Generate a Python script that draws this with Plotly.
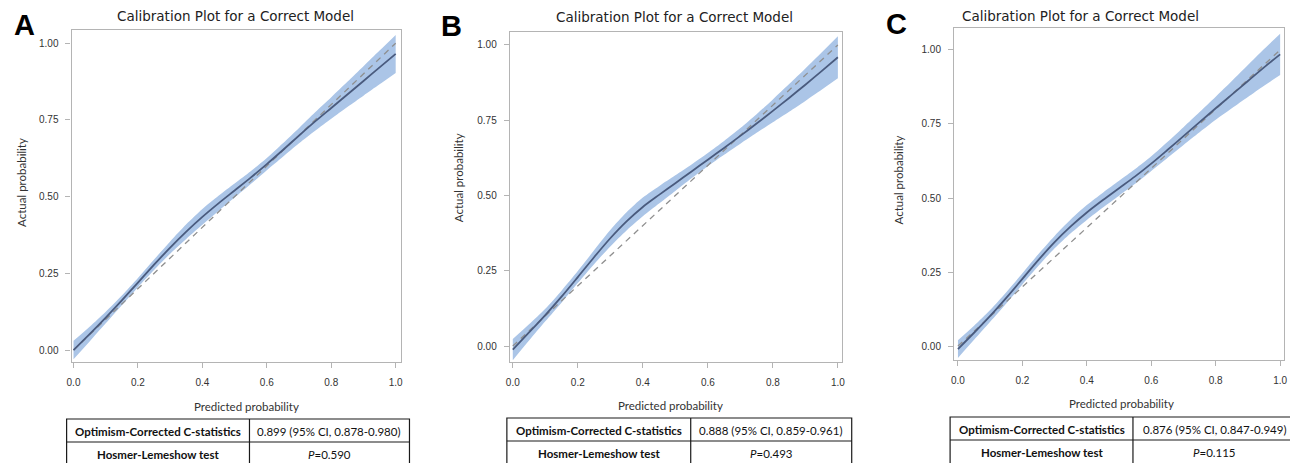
import plotly.graph_objects as go

W, H = 1290, 463

# ---------------- data ----------------
pred_x = [0.0, 0.05, 0.1, 0.15, 0.2, 0.25, 0.3, 0.35, 0.4, 0.45, 0.5,
          0.55, 0.6, 0.65, 0.7, 0.75, 0.8, 0.85, 0.9, 0.95, 1.0]

a_actual = [0.0, 0.052, 0.106, 0.162, 0.220, 0.278, 0.334, 0.386, 0.434, 0.478, 0.520,
            0.562, 0.606, 0.652, 0.699, 0.745, 0.789, 0.833, 0.877, 0.921, 0.965]
a_lower = [-0.03, 0.028, 0.087, 0.146, 0.205, 0.261, 0.314, 0.362, 0.408, 0.453, 0.497,
           0.541, 0.586, 0.630, 0.674, 0.715, 0.754, 0.792, 0.829, 0.866, 0.903]
a_upper = [0.03, 0.076, 0.125, 0.178, 0.235, 0.295, 0.354, 0.410, 0.460, 0.503, 0.543,
           0.583, 0.626, 0.674, 0.724, 0.775, 0.824, 0.874, 0.925, 0.976, 1.027]

b_actual = [-0.012, 0.045, 0.103, 0.164, 0.229, 0.295, 0.358, 0.414, 0.462, 0.502, 0.541,
            0.580, 0.619, 0.658, 0.698, 0.739, 0.781, 0.824, 0.868, 0.913, 0.959]
b_lower = [-0.047, 0.018, 0.082, 0.144, 0.209, 0.272, 0.331, 0.384, 0.431, 0.473, 0.515,
           0.557, 0.597, 0.635, 0.672, 0.708, 0.743, 0.778, 0.814, 0.851, 0.889]
b_upper = [0.023, 0.072, 0.124, 0.184, 0.249, 0.318, 0.385, 0.444, 0.493, 0.531, 0.567,
           0.603, 0.641, 0.681, 0.724, 0.770, 0.819, 0.870, 0.922, 0.975, 1.029]

c_actual = [-0.01, 0.045, 0.102, 0.163, 0.227, 0.291, 0.351, 0.404, 0.451, 0.493, 0.533,
            0.573, 0.616, 0.662, 0.709, 0.756, 0.803, 0.849, 0.895, 0.941, 0.985]
c_lower = [-0.04, 0.021, 0.082, 0.144, 0.208, 0.271, 0.330, 0.381, 0.426, 0.468, 0.508,
           0.548, 0.591, 0.635, 0.679, 0.722, 0.764, 0.803, 0.841, 0.879, 0.915]
c_upper = [0.02, 0.069, 0.122, 0.182, 0.246, 0.311, 0.372, 0.427, 0.476, 0.518, 0.558,
           0.598, 0.641, 0.689, 0.739, 0.790, 0.842, 0.895, 0.949, 1.003, 1.055]

ideal_x = [0.0, 1.0]
ideal_y = [0.0, 1.0]

panel_letters = ["A", "B", "C"]
plot_title = "Calibration Plot for a Correct Model"
x_title = "Predicted probability"
y_title = "Actual probability"
x_ticks = [0.0, 0.2, 0.4, 0.6, 0.8, 1.0]
x_ticklabels = ["0.0", "0.2", "0.4", "0.6", "0.8", "1.0"]
y_ticks = [0.0, 0.25, 0.5, 0.75, 1.0]
y_ticklabels = ["0.00", "0.25", "0.50", "0.75", "1.00"]

row1_label = "Optimism-Corrected C-statistics"
row2_label = "Hosmer-Lemeshow test"
c_stats = ["0.899 (95% CI, 0.878-0.980)", "0.888 (95% CI, 0.859-0.961)", "0.876 (95% CI, 0.847-0.949)"]
hl_p = ["0.590", "0.493", "0.115"]

# ---------------- layout geometry (pixels) ----------------
panels = [
    dict(actual=a_actual, lower=a_lower, upper=a_upper,
         frame=(67, 398, 30, 362), xr=(-0.006, 1.015), yr=(-0.039, 1.043),
         title=(232, 16), xt=(243, 406), yt=(16, 182), letter=(20, 25),
         table=(62, 246, 407, 419, 442)),
    dict(actual=b_actual, lower=b_lower, upper=b_upper,
         frame=(508, 842, 32, 362), xr=(-0.009, 1.012), yr=(-0.053, 1.043),
         title=(674, 17), xt=(670, 405), yt=(456, 178), letter=(449, 26),
         table=(505, 690, 852, 418, 441)),
    dict(actual=c_actual, lower=c_lower, upper=c_upper,
         frame=(955, 1287, 28, 360), xr=(-0.012, 1.012), yr=(-0.047, 1.074),
         title=(1082, 16), xt=(1123, 403), yt=(899, 180), letter=(897, 24),
         table=(951, 1135, 1300, 417, 440)),
]

def px(x):
    return x / W

def py(y):
    return 1 - y / H

fig = go.Figure()
shapes = []
annotations = []

band_color = "#abc5e7"
line_color = "#4a5b7e"
dash_color = "#8f8f8f"
frame_color = "#b4b4b4"

for i, p in enumerate(panels):
    n = "" if i == 0 else str(i + 1)
    xa, ya = "x" + n, "y" + n
    fig.add_trace(go.Scatter(x=pred_x, y=p["lower"], mode="lines",
                             line=dict(width=0, shape="spline", smoothing=0.8),
                             xaxis=xa, yaxis=ya, showlegend=False, hoverinfo="skip"))
    fig.add_trace(go.Scatter(x=pred_x, y=p["upper"], mode="lines",
                             line=dict(width=0, shape="spline", smoothing=0.8),
                             fill="tonexty", fillcolor=band_color,
                             xaxis=xa, yaxis=ya, showlegend=False, hoverinfo="skip"))
    fig.add_trace(go.Scatter(x=ideal_x, y=ideal_y, mode="lines",
                             line=dict(color=dash_color, width=1.3, dash="6px,5px"),
                             xaxis=xa, yaxis=ya, showlegend=False))
    fig.add_trace(go.Scatter(x=pred_x, y=p["actual"], mode="lines",
                             line=dict(color=line_color, width=1.8, shape="spline", smoothing=0.8),
                             xaxis=xa, yaxis=ya, showlegend=False))

    l, r, t, b = p["frame"]
    axis_common = dict(showline=True, mirror=True, linecolor=frame_color, linewidth=1.2,
                       showgrid=False, zeroline=False, ticks="outside", ticklen=5,
                       tickcolor=frame_color, tickwidth=1,
                       tickfont=dict(family="Liberation Sans, Arial", size=10, color="#333333"))
    fig.update_layout(**{
        "xaxis" + n: dict(domain=[px(l), px(r)], range=list(p["xr"]), anchor=ya,
                          tickvals=x_ticks, ticktext=x_ticklabels, ticklabelstandoff=6, **axis_common),
        "yaxis" + n: dict(domain=[py(b), py(t)], range=list(p["yr"]), anchor=xa,
                          tickvals=y_ticks, ticktext=y_ticklabels, ticklabelstandoff=5, **axis_common),
    })

    def ann(x, y, text, font, **kw):
        d = dict(x=px(x), y=py(y), xref="paper", yref="paper", text=text, showarrow=False,
                 xanchor="center", yanchor="middle", font=font)
        d.update(kw)
        annotations.append(d)

    ann(p["title"][0], p["title"][1], plot_title,
        dict(family="DejaVu Sans", size=13.5, color="#222222"))
    ann(p["xt"][0], p["xt"][1], x_title, dict(family="Lato", size=11.5, color="#333333"))
    ann(p["yt"][0], p["yt"][1], y_title, dict(family="Lato", size=11.5, color="#333333"), textangle=-90)
    ann(p["letter"][0], p["letter"][1], "<b>" + panel_letters[i] + "</b>",
        dict(family="Liberation Sans, Arial", size=29, color="#000000"))

    # table
    tl, tm, tr, tt, tmid = p["table"]
    tb = tmid + (tmid - tt) + 2
    line_style = dict(color="#1a1a1a", width=1.2)
    shapes.append(dict(type="rect", xref="paper", yref="paper", x0=px(tl), x1=px(tr), y0=py(tb), y1=py(tt),
                       line=line_style, fillcolor="rgba(0,0,0,0)"))
    shapes.append(dict(type="line", xref="paper", yref="paper", x0=px(tl), x1=px(tr), y0=py(tmid), y1=py(tmid),
                       line=line_style))
    shapes.append(dict(type="line", xref="paper", yref="paper", x0=px(tm), x1=px(tm), y0=py(tb), y1=py(tt),
                       line=line_style))
    r1y = (tt + tmid) / 2 + 1
    r2y = tmid + (tmid - tt) / 2 + 1
    cell_font = dict(family="Lato", size=11.5, color="#111111")
    left_center = (tl + tm) / 2
    right_center = (tm + tr) / 2
    ann(left_center, r1y, "<b>" + row1_label + "</b>", cell_font)
    ann(right_center, r1y, c_stats[i], cell_font)
    ann(left_center, r2y, "<b>" + row2_label + "</b>", cell_font)
    ann(right_center, r2y, "<i>P</i>=" + hl_p[i], cell_font)

fig.update_layout(width=W, height=H, margin=dict(l=0, r=0, t=0, b=0),
                  paper_bgcolor="white", plot_bgcolor="white",
                  shapes=shapes, annotations=annotations, showlegend=False)

fig.write_html("out.html", config={"displayModeBar": False},
               post_script="document.body.style.margin='0';document.body.style.overflow='hidden';")
